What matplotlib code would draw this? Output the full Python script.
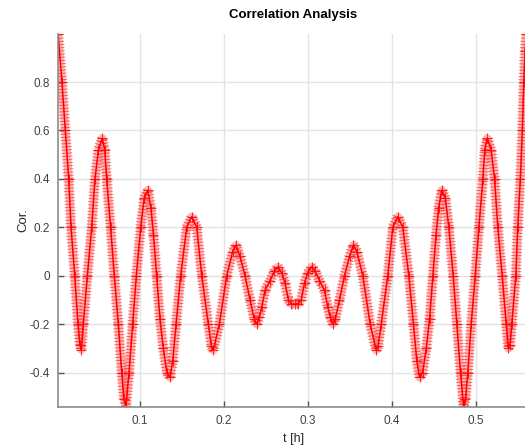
import matplotlib
matplotlib.use("Agg")
import matplotlib.pyplot as plt
from matplotlib import patheffects as pe

plt.rcParams['font.family'] = ['Liberation Sans', 'DejaVu Sans']

# lag [h] and correlation
lag = [0.0024, 0.0071, 0.0111, 0.0151, 0.0179, 0.0223, 0.0262, 0.0285, 0.0301,
       0.0325, 0.0373, 0.0425, 0.0464, 0.0505, 0.0551,
       0.0580, 0.0603, 0.0650, 0.0694, 0.0742, 0.0782, 0.0810, 0.0833,
       0.0869, 0.0912, 0.0956, 0.1008, 0.1050, 0.1092,
       0.1130, 0.1160, 0.1198, 0.1238, 0.1277, 0.1320, 0.1357,
       0.1390, 0.1429, 0.1484, 0.1556, 0.1615,
       0.1675, 0.1735, 0.1813, 0.1850, 0.1873,
       0.1944, 0.2032, 0.2103, 0.2143,
       0.2190, 0.2250, 0.2310, 0.2360, 0.2389,
       0.2420, 0.2449, 0.2488, 0.2548, 0.2600, 0.2642,
       0.2690, 0.2726, 0.2766, 0.2800, 0.2842,
       0.2884, 0.2918, 0.2958, 0.2994, 0.3042,
       0.3084, 0.3136, 0.3196, 0.3235, 0.3264, 0.3295,
       0.3324, 0.3374, 0.3434, 0.3494, 0.3541,
       0.3581, 0.3652, 0.3740, 0.3811,
       0.3834, 0.3871, 0.3949, 0.4009, 0.4069,
       0.4128, 0.4200, 0.4255, 0.4294, 0.4327,
       0.4364, 0.4407, 0.4446, 0.4486, 0.4524, 0.4554, 0.4592,
       0.4634, 0.4676, 0.4728, 0.4772, 0.4815, 0.4851,
       0.4874, 0.4902, 0.4942, 0.4990, 0.5034, 0.5081, 0.5104, 0.5133,
       0.5179, 0.5220, 0.5259, 0.5311, 0.5359, 0.5385,
       0.5405, 0.5425, 0.5473, 0.5496, 0.5527, 0.5551, 0.5568, 0.5583, 0.5598]
cor = [1.000, 0.800, 0.600, 0.400, 0.200, 0.000, -0.200, -0.285, -0.305,
       -0.200, 0.000, 0.200, 0.400, 0.520, 0.568,
       0.520, 0.400, 0.200, 0.000, -0.200, -0.400, -0.510, -0.537,
       -0.400, -0.200, 0.000, 0.200, 0.320, 0.354,
       0.280, 0.170, 0.000, -0.180, -0.300, -0.400, -0.420,
       -0.350, -0.200, 0.000, 0.200, 0.244,
       0.200, 0.000, -0.200, -0.290, -0.307,
       -0.200, 0.000, 0.100, 0.127,
       0.080, 0.000, -0.100, -0.180, -0.200,
       -0.170, -0.130, -0.060, -0.020, 0.020, 0.037,
       0.010, -0.030, -0.100, -0.115, -0.118,
       -0.115, -0.100, -0.030, 0.010, 0.037,
       0.020, -0.020, -0.060, -0.130, -0.170, -0.200,
       -0.180, -0.100, 0.000, 0.080, 0.127,
       0.100, 0.000, -0.200, -0.307,
       -0.290, -0.200, 0.000, 0.200, 0.244,
       0.200, 0.000, -0.200, -0.350, -0.420,
       -0.400, -0.300, -0.180, 0.000, 0.170, 0.280, 0.354,
       0.320, 0.200, 0.000, -0.200, -0.400, -0.537,
       -0.510, -0.400, -0.200, 0.000, 0.200, 0.400, 0.520, 0.568,
       0.520, 0.400, 0.200, 0.000, -0.200, -0.300,
       -0.285, -0.200, 0.000, 0.200, 0.400, 0.600, 0.800, 0.930, 1.000]

xticks = [0.1, 0.2, 0.3, 0.4, 0.5]
yticks = [-0.4, -0.2, 0, 0.2, 0.4, 0.6, 0.8]
ytick_labels = ['-0.4', '-0.2', '0', '0.2', '0.4', '0.6', '0.8']

fig = plt.figure(figsize=(5.25, 4.48), dpi=100)
ax = fig.add_axes([0.111, 0.092, 0.895, 0.833])

# pinkish band + dense '+' texture like the overlapping markers
ax.plot(lag, cor, color='red', lw=6, alpha=0.28, solid_capstyle='round', solid_joinstyle='round')
ticks_line, = ax.plot(lag, cor, color='red', lw=1.1)
ticks_line.set_path_effects([
    pe.TickedStroke(spacing=2.3, angle=90, length=1.5, linewidth=0.7, alpha=0.55),
    pe.TickedStroke(spacing=2.3, angle=-90, length=1.5, linewidth=0.7, alpha=0.55),
    pe.Normal(),
])
ax.plot(lag, cor, '+', color='red', ms=7, mew=0.8, alpha=0.8)

ax.set_xlim(0.0027, 0.562)
ax.set_ylim(-0.541, 1.0)
ax.set_xticks(xticks)
ax.set_xticklabels([str(x) for x in xticks])
ax.set_yticks(yticks)
ax.set_yticklabels(ytick_labels)
ax.grid(True, color='#e4e4e4', lw=1.0)
ax.set_axisbelow(True)

for side in ['top', 'right']:
    ax.spines[side].set_visible(False)
for side in ['left', 'bottom']:
    ax.spines[side].set_color('#8c8c8c')
    ax.spines[side].set_linewidth(1.2)
ax.tick_params(direction='in', length=4, width=1, color='#555555', labelcolor='#404040', labelsize=8.5, pad=6)

ax.set_title('Correlation Analysis', fontsize=9.5, fontweight='bold', pad=11)
ax.set_xlabel('t [h]', fontsize=9, color='#262626', labelpad=4)
ax.set_ylabel('Cor.', fontsize=9.5, color='#262626', labelpad=0)

fig.savefig('out.png', dpi=100)
